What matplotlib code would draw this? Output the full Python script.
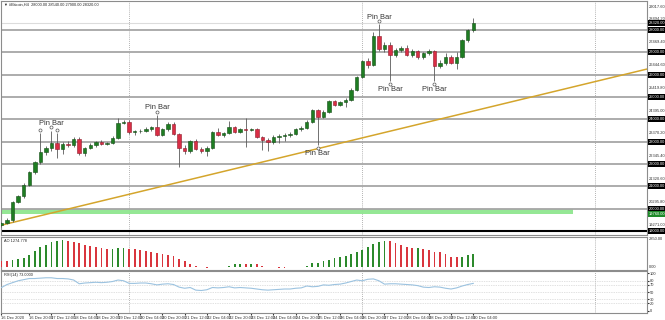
import matplotlib
matplotlib.use("Agg")
import matplotlib.pyplot as plt
import matplotlib.transforms as mtrans
import numpy as np

plt.rcParams['font.family'] = ['Liberation Sans', 'DejaVu Sans']

# ---------------- data ----------------
opens = [19280, 19360, 19490, 20310, 20560, 21060, 21640, 22090, 22540, 22720,
         22940, 22670, 22900, 22860, 23120, 22490, 22720, 22850, 22990, 22900,
         22940, 23170, 23840, 23900, 23430, 23480, 23500, 23580, 23650, 23300,
         23570, 23800, 23350, 22720, 22580, 23030, 22670, 22590, 22700, 23430,
         23300, 23390, 23660, 23430, 23570, 23540, 23560, 23200, 23080, 22990,
         23210, 23250, 23300, 23350, 23570, 23600, 23880, 24420, 24100, 24330,
         24820, 24640, 24780, 24870, 25320, 25900, 26600, 26450, 27750, 27150,
         27350, 26900, 27100, 27200, 26900, 27050, 26800, 26950, 27050, 26400,
         26530, 26800, 26530, 26800, 27560, 28000]
highs = [19400, 19560, 20350, 20620, 21150, 21700, 22150, 23400, 22800, 23500,
         23400, 23000, 23050, 23200, 23200, 22780, 22920, 23050, 23080, 23000,
         23250, 24060, 23980, 23950, 23520, 23560, 23650, 23720, 24200, 23620,
         23900, 23900, 23400, 22850, 23080, 23100, 22750, 22800, 23500, 23600,
         23450, 23930, 23720, 23620, 24060, 23620, 23600, 23250, 23150, 23280,
         23350, 23380, 23420, 23620, 23700, 23950, 24450, 24480, 24400, 24880,
         24880, 24820, 24950, 25400, 25950, 26650, 26750, 27900, 28250, 27450,
         27450, 27200, 27300, 27350, 27150, 27100, 27000, 27150, 27100, 26650,
         26975, 26900, 27020, 27600, 28050, 28540]
lows = [19200, 19300, 19420, 20250, 20500, 21000, 21550, 22000, 22400, 22600,
        22270, 22450, 22750, 22750, 22400, 22380, 22650, 22780, 22850, 22850,
        22880, 23100, 23780, 23350, 23300, 23400, 23420, 23500, 23250, 23250,
        23500, 23300, 21870, 22450, 22500, 22620, 22500, 22350, 22650, 23250,
        23200, 23350, 23380, 23380, 22760, 23480, 23150, 22630, 22580, 22900,
        22950, 23050, 23200, 23300, 23480, 23550, 23820, 22850, 24050, 24280,
        24580, 24600, 24550, 24820, 25250, 25850, 26300, 26400, 27050, 27000,
        25700, 26800, 27000, 26850, 26800, 26700, 26700, 26880, 25700, 26300,
        26450, 26480, 26250, 26750, 27450, 27900]
closes = [19360, 19490, 20310, 20560, 21060, 21640, 22090, 22540, 22720, 22940,
          22670, 22900, 22860, 23120, 22490, 22720, 22850, 22990, 22900, 22940,
          23170, 23840, 23900, 23430, 23480, 23500, 23580, 23650, 23300, 23570,
          23800, 23350, 22720, 22580, 23030, 22670, 22590, 22700, 23430, 23300,
          23390, 23660, 23430, 23570, 23540, 23560, 23200, 23080, 22990, 23210,
          23250, 23300, 23350, 23570, 23600, 23880, 24420, 24100, 24330, 24820,
          24640, 24780, 24870, 25320, 25900, 26600, 26450, 27750, 27150, 27350,
          26900, 27100, 27200, 26900, 27050, 26800, 26950, 27050, 26400, 26530,
          26800, 26530, 26800, 27560, 28000, 28320]

ao_values = [589, 570, 665, 760, 884, 1169, 1520, 1872, 2090, 2404,
             2499, 2565, 2499, 2404, 2252, 2119, 2024, 1929, 1834, 1739,
             1758, 1777, 1796, 1739, 1710, 1644, 1549, 1454, 1359, 1235,
             1140, 1045, 827, 599, 352, 95, 28, -10, 19, 48,
             76, 162, 285, 304, 285, 352, 285, 162, 67, 10,
             -19, -29, 29, 76, 57, 162, 380, 447, 599, 694,
             855, 950, 1045, 1264, 1454, 1644, 1872, 2185, 2404, 2499,
             2442, 2280, 2119, 1900, 1805, 1824, 1710, 1644, 1492, 1425,
             1264, 1017, 950, 1017, 1178, 1274.778]

rsi_values = [62, 70, 75, 80, 83, 86, 86, 87, 88, 88,
              86, 86, 85, 82, 72, 74, 75, 76, 75, 76,
              78, 82, 80, 73, 73, 74, 74, 72, 69, 71,
              72, 70, 63, 60, 62, 55, 54, 56, 62, 61,
              62, 64, 61, 62, 61, 60, 58, 56, 55, 56,
              57, 58, 58, 60, 61, 66, 64, 65, 69, 68,
              70, 71, 74, 78, 82, 80, 84, 85, 80, 71,
              72, 72, 71, 70, 69, 67, 63, 62, 64, 63,
              60, 58, 61, 66, 70, 73]

time_labels = ["16 Dec 2020", "16 Dec 20:00", "17 Dec 12:00", "18 Dec 04:00", "18 Dec 20:00",
               "19 Dec 12:00", "20 Dec 04:00", "20 Dec 20:00", "21 Dec 12:00", "22 Dec 04:00",
               "22 Dec 20:00", "23 Dec 12:00", "24 Dec 04:00", "24 Dec 20:00", "25 Dec 12:00",
               "26 Dec 04:00", "26 Dec 20:00", "27 Dec 12:00", "28 Dec 04:00", "28 Dec 20:00",
               "29 Dec 12:00", "30 Dec 04:00"]
time_label_bars = [0, 5, 9, 13, 17, 21, 25, 29, 33, 37, 41, 45, 49, 53, 57, 61, 65, 69,
                   73, 77, 81, 85]

level_lines = [19000, 20000, 21000, 22000, 23000, 24000, 25000, 26000, 27000, 28000]
scale_ticks = [29017.60, 28494.20, 27469.40, 26444.60, 25419.80, 24395.00,
               23370.20, 22345.40, 21320.60, 20295.80, 19271.00]
support_zone = (19760, 20000)
support_zone_end_bar = 103
trend_bars = [0, 116]
trend_prices = [19263, 26235]
grid_bars = [23, 65, 107]
pin_up_bars = [7, 9, 10, 28, 68]
pin_dn_bars = [57, 70, 78]
pin_label_up = [9, 28, 68]
pin_label_dn = [57, 70, 78]
rsi_levels = [20, 30, 50, 70, 80]
rsi_ticks = [0, 20, 30, 50, 70, 80, 100]

# ---------------- layout ----------------
W, H = 665, 320
fig = plt.figure(figsize=(W / 100, H / 100), dpi=100)
fig.patch.set_facecolor('white')


def ax_px(x0, y0, x1, y1):
    return fig.add_axes([x0 / W, 1 - y1 / H, (x1 - x0) / W, (y1 - y0) / H])


ax = ax_px(1, 1, 647, 235)
ax_ao = ax_px(1, 237, 647, 269.5)
ax_rsi = ax_px(1, 271, 647, 313)

XL = (-0.09, 116.3)
spine_c = '#8c8c8c'
for a in (ax, ax_ao, ax_rsi):
    a.set_xlim(*XL)
    for s in a.spines.values():
        s.set_color(spine_c)
        s.set_linewidth(0.8)
    a.tick_params(axis='both', which='both', length=0)
    a.set_xticks([])

idx = np.arange(len(opens))
o = np.array(opens, float)
h = np.array(highs, float)
l = np.array(lows, float)
c = np.array(closes, float)

# ---------------- main panel ----------------
ax.set_ylim(18821, 29300)
ax.axhspan(support_zone[0], support_zone[1], xmin=0,
           xmax=(support_zone_end_bar - XL[0]) / (XL[1] - XL[0]),
           color='#8fe68f', alpha=0.95, lw=0, zorder=1)
for lv in level_lines:
    if lv == 19000:
        ax.axhline(lv, color='black', lw=1.5, zorder=2)
    else:
        ax.axhline(lv, color='#a6a6a6', lw=1.3, zorder=2)
ax.axhline(closes[-1], color='#dcdcdc', lw=0.8, zorder=2)
for gb in grid_bars:
    for a in (ax, ax_ao, ax_rsi):
        a.axvline(gb, color='#9a9a9a', lw=0.6, ls=(0, (1, 1.5)), zorder=0)

tx = np.array([XL[0] - 5, XL[1] + 5])
slope = (trend_prices[1] - trend_prices[0]) / (trend_bars[1] - trend_bars[0])
ax.plot(tx, trend_prices[0] + slope * (tx - trend_bars[0]), color='#d4a52c', lw=1.1, zorder=3)

up = c >= o
green, red = '#1e7d22', '#d92e45'
green_e, red_e = '#144d16', '#8f1c2c'
ax.vlines(idx, l, h, color='#5a5a5a', lw=0.6, zorder=4)
body_bot = np.minimum(o, c)
body_h = np.maximum(np.abs(c - o), 18)
ax.bar(idx, body_h, bottom=body_bot, width=0.62,
       color=[green if u else red for u in up],
       edgecolor=[green_e if u else red_e for u in up], linewidth=0.4, zorder=5)

off_up = mtrans.offset_copy(ax.transData, fig=fig, y=2.2, units='points')
off_dn = mtrans.offset_copy(ax.transData, fig=fig, y=-2.2, units='points')
ax.plot(pin_up_bars, h[pin_up_bars], 'o', ms=2.2, mfc='white', mec='#555555', mew=0.5,
        transform=off_up, zorder=6, clip_on=False)
ax.plot(pin_dn_bars, l[pin_dn_bars], 'o', ms=2.2, mfc='white', mec='#555555', mew=0.5,
        transform=off_dn, zorder=6, clip_on=False)
lab_up = mtrans.offset_copy(ax.transData, fig=fig, y=5.0, units='points')
lab_dn = mtrans.offset_copy(ax.transData, fig=fig, y=-5.8, units='points')
for b in pin_label_up:
    ax.text(b, h[b], 'Pin Bar', transform=lab_up, ha='center', va='center',
            fontsize=5.4, color='#333333', zorder=7)
for b in pin_label_dn:
    ax.text(b, l[b], 'Pin Bar', transform=lab_dn, ha='center', va='center',
            fontsize=5.4, color='#333333', zorder=7)

ax.text(0.004, 0.993, '\u25bc #Bitcoin,H4  %.2f %.2f %.2f %.2f' % (o[-1], h[-1], l[-1], c[-1]),
        transform=ax.transAxes, ha='left', va='top', fontsize=2.8, color='#222222')

ytr = ax.get_yaxis_transform()
for t in scale_ticks:
    ax.text(1.003, t, '%.2f' % t, transform=ytr, ha='left', va='center',
            fontsize=2.9, color='#333333', clip_on=False)
for lv in level_lines:
    ax.text(1.003, lv, '%.2f' % lv, transform=ytr, ha='left', va='center', fontsize=2.9,
            color='white', clip_on=False,
            bbox=dict(boxstyle='square,pad=0.25', fc='black', ec='none'))
ax.text(1.003, closes[-1], '%.2f' % closes[-1], transform=ytr, ha='left', va='center',
        fontsize=2.9, color='white', clip_on=False,
        bbox=dict(boxstyle='square,pad=0.25', fc='black', ec='none'))
ax.text(1.003, support_zone[0], '%.2f' % support_zone[0], transform=ytr, ha='left',
        va='center', fontsize=2.9, color='white', clip_on=False,
        bbox=dict(boxstyle='square,pad=0.25', fc='#1f8a2a', ec='none'))
ax.set_yticks([])

# ---------------- AO panel ----------------
ao = np.array(ao_values, float)
ao_up = np.r_[False, ao[1:] > ao[:-1]]
ax_ao.set_ylim(-190, 2850)
ax_ao.bar(idx, ao, width=0.32, color=['#2c8a2c' if u else '#d9363e' for u in ao_up], zorder=3)
ax_ao.set_yticks([])
ax_ao.text(0.004, 0.93, 'AO %.3f' % ao_values[-1], transform=ax_ao.transAxes, ha='left',
           va='top', fontsize=2.8, color='#222222')
ytr_ao = ax_ao.get_yaxis_transform()
ax_ao.text(1.003, 2700, '%.2f' % 2850, transform=ytr_ao, ha='left', va='center',
           fontsize=2.9, color='#333333', clip_on=False)
ax_ao.text(1.003, 0, '0.00', transform=ytr_ao, ha='left', va='center',
           fontsize=2.9, color='#333333', clip_on=False)

# ---------------- RSI panel ----------------
ax_rsi.set_ylim(-6.1, 106.1)
for lv in rsi_levels:
    ax_rsi.axhline(lv, color='#c4c4c4', lw=0.5, ls=(0, (1, 1.5)), zorder=1)
ax_rsi.plot(idx, rsi_values, color='#9cc3e0', lw=0.8, zorder=3)
ax_rsi.text(0.004, 0.96, 'RSI(14) %.4f' % rsi_values[-1], transform=ax_rsi.transAxes,
            ha='left', va='top', fontsize=2.8, color='#222222')
ax_rsi.yaxis.tick_right()
ax_rsi.set_yticks(rsi_ticks)
ax_rsi.set_yticklabels([str(v) for v in rsi_ticks], fontsize=2.9, color='#333333')
ax_rsi.tick_params(axis='y', length=1.2, pad=1, colors='#333333')
ax_rsi.set_xticks(time_label_bars)
ax_rsi.set_xticklabels(time_labels, fontsize=3.0, ha='left', color='#333333')
ax_rsi.tick_params(axis='x', length=1.5, pad=0.8, colors='#333333')

fig.savefig('out.png', dpi=100, facecolor='white')
